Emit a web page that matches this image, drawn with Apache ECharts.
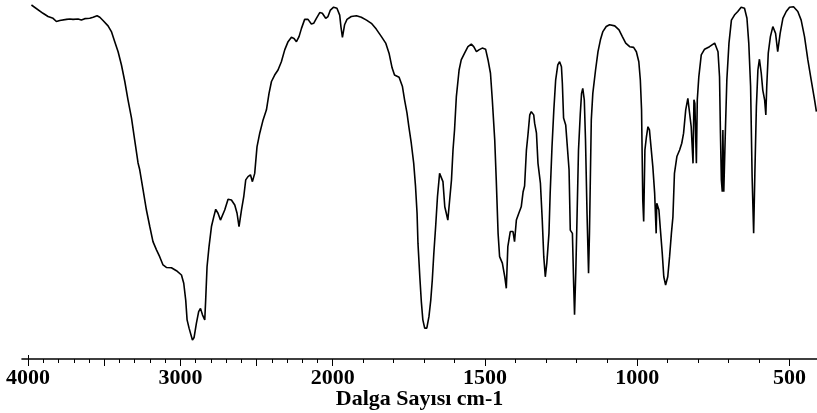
<!DOCTYPE html>
<html><head><meta charset="utf-8">
<script src="https://cdn.jsdelivr.net/npm/echarts@6/dist/echarts.min.js"></script>
<style>html,body{margin:0;padding:0;background:#fff}#c{width:817px;height:413px}</style>
</head><body><div id="c"></div>
<script>
const wavenumbers = [3978,3902,3869,3836,3814,3792,3781,3748,3726,3705,3672,3650,3628,3595,3573,3547,3529,3508,3475,3453,3431,3409,3387,3365,3344,3321,3300,3278,3267,3245,3223,3201,3180,3157,3136,3114,3092,3059,3026,2993,2978,2965,2956,2943,2932,2921,2910,2895,2880,2868,2855,2840,2834,2825,2812,2796,2781,2768,2753,2737,2724,2709,2687,2665,2643,2628,2615,2599,2584,2571,2556,2540,2527,2512,2497,2479,2457,2435,2418,2402,2381,2359,2337,2315,2293,2271,2254,2238,2221,2205,2184,2162,2140,2125,2107,2085,2068,2046,2031,2015,1997,1986,1977,1973,1968,1961,1953,1939,1922,1906,1889,1873,1857,1840,1826,1815,1805,1797,1782,1771,1764,1756,1750,1742,1734,1728,1723,1720,1714,1709,1704,1698,1691,1684,1678,1673,1668,1662,1656,1649,1643,1638,1632,1627,1622,1616,1610,1605,1600,1594,1585,1578,1567,1556,1545,1537,1528,1520,1509,1498,1490,1482,1476,1468,1463,1457,1452,1443,1435,1430,1425,1417,1408,1403,1397,1389,1381,1375,1370,1364,1359,1353,1348,1340,1337,1331,1326,1318,1312,1307,1302,1297,1290,1286,1280,1274,1268,1261,1255,1249,1246,1242,1235,1231,1224,1220,1213,1209,1206,1202,1198,1193,1187,1183,1179,1174,1170,1165,1160,1157,1151,1146,1137,1129,1121,1113,1102,1091,1074,1060,1049,1038,1025,1012,1003,995,990,986,982,979,975,970,965,960,954,949,943,938,936,929,924,918,913,907,900,894,888,883,878,870,861,854,848,841,834,828,823,817,814,811,806,803,798,790,779,763,746,735,730,727,724,721,719,716,711,706,699,691,681,670,659,648,640,634,628,623,618,614,609,604,599,593,588,582,578,575,570,563,555,546,539,531,522,511,500,487,473,462,451,440,429,418,412];
const transmittance = [98.6,96.3,95.4,94.9,94.0,94.3,94.7,94.6,94.7,94.6,94.7,94.4,94.8,94.9,95.2,95.6,95.2,94.3,92.8,91.2,88.4,85.6,81.9,77.3,72.2,67.1,61.0,54.6,52.7,47.1,41.5,36.9,32.7,30.4,28.5,26.2,25.5,25.4,24.6,23.4,21.1,16.4,10.9,8.6,8.1,5.3,6.0,9.9,13.2,14.1,12.3,10.9,16.4,25.7,31.3,36.9,39.6,41.7,40.6,38.7,38.3,41.5,44.5,44.3,42.9,40.6,36.9,41.5,45.2,49.9,50.8,51.3,49.4,51.7,59.1,62.9,66.6,69.4,74.0,77.3,79.1,80.5,82.8,86.1,88.4,89.6,89.3,88.4,89.8,92.1,94.6,94.6,93.3,93.5,94.9,96.5,96.3,94.9,95.4,97.2,98.0,97.7,95.8,92.6,89.6,93.1,94.6,95.4,95.6,95.2,94.4,93.5,91.9,89.8,88.0,85.2,81.1,79.1,78.5,75.9,72.2,68.5,64.7,60.1,54.5,48.0,40.6,32.2,22.9,16.0,10.9,8.6,8.6,11.8,16.4,22.0,29.4,36.9,45.2,51.7,52.2,49.4,42.4,40.6,38.7,44.3,49.9,58.2,63.8,73.1,80.5,83.3,85.2,87.0,87.7,87.0,85.6,86.1,86.6,86.3,83.3,79.6,72.2,61.0,49.9,35.0,28.5,26.7,22.9,19.7,31.3,35.5,35.5,32.7,38.7,40.6,42.4,46.5,48.2,58.2,62.4,68.0,68.9,68.0,65.7,62.9,54.5,48.9,38.7,28.5,22.9,26.7,35.0,46.2,59.1,69.4,77.7,81.9,82.8,81.4,76.8,67.1,65.2,64.7,52.7,35.9,35.0,21.1,12.3,23.9,38.7,58.2,68.5,74.0,75.4,72.2,61.0,40.6,23.9,35.0,66.6,74.0,80.5,85.6,88.9,91.2,92.6,93.1,92.8,91.7,89.8,88.0,87.0,86.8,85.6,82.8,77.7,69.4,44.3,38.3,58.2,61.9,64.7,63.8,58.2,53.6,46.2,35.0,43.4,41.5,35.9,29.4,22.9,20.6,22.9,28.5,35.0,39.6,51.7,56.4,58.2,60.1,62.9,69.4,72.6,73.1,64.7,54.5,72.2,71.2,54.5,72.2,78.6,84.7,86.3,87.0,88.0,85.6,78.6,62.9,49.9,46.6,63.8,46.6,62.9,77.7,88.0,94.4,95.8,96.8,98.0,97.7,94.9,88.0,75.9,50.8,35.0,51.7,70.3,80.5,83.5,79.6,74.9,72.2,68.0,75.9,85.2,89.8,92.6,90.7,85.6,90.7,94.9,96.8,98.0,98.1,96.8,94.4,89.8,83.3,77.7,72.2,68.9];
const tickWavenumbers = [4000,3900,3800,3700,3600,3500,3400,3300,3200,3100,3000,2900,2800,2700,2600,2500,2400,2300,2200,2100,2000,1900,1800,1700,1600,1500,1400,1300,1200,1100,1000,900,800,700,600,500];
const majorTickWavenumbers = [4000,3500,3000,2500,2000,1500,1000,500];
const labelWavenumbers = [4000,3000,2000,1500,1000,500];
const xTitle = 'Dalga Sayısı cm-1';

// Spectrometer-style axis: 2x compression above 2000 cm-1
function toAxis(w){ return w >= 2000 ? (4000 - w) / 2 : 3000 - w; }
function fromAxis(u){ return u <= 1000 ? 4000 - 2 * u : 3000 - u; }

const n = Math.min(wavenumbers.length, transmittance.length);
const data = [];
for (let i = 0; i < n; i++) data.push([toAxis(wavenumbers[i]), transmittance[i]]);

const fontBase = {fontFamily: 'Liberation Serif', fontWeight: 'bold', color: '#000'};
const X_MIN = -20, X_MAX = 2590;

const chart = echarts.init(document.getElementById('c'), null, {renderer: 'canvas'});
chart.setOption({
  animation: false,
  backgroundColor: '#fff',
  grid: {left: 22, right: 0, top: 0, bottom: 54, outerBoundsMode: 'none', containLabel: false},
  xAxis: [
    {type: 'value', min: X_MIN, max: X_MAX, position: 'bottom',
     axisLine: {show: true, lineStyle: {color: '#000', width: 1.6}},
     axisTick: {show: true, customValues: tickWavenumbers.map(toAxis), length: 4, lineStyle: {color: '#000', width: 1}},
     axisLabel: {show: false}, splitLine: {show: false}},
    {type: 'value', min: X_MIN, max: X_MAX, position: 'bottom',
     axisLine: {show: false},
     axisTick: {show: true, customValues: majorTickWavenumbers.map(toAxis), length: 7, lineStyle: {color: '#000', width: 1}},
     axisLabel: Object.assign({show: true, customValues: labelWavenumbers.map(toAxis), fontSize: 22, margin: 8,
       formatter: v => String(Math.round(fromAxis(v)))}, fontBase),
     name: xTitle, nameLocation: 'middle', nameGap: 29, nameMoveOverlap: false,
     nameTextStyle: Object.assign({fontSize: 22}, fontBase),
     splitLine: {show: false}},
    {type: 'value', min: X_MIN, max: X_MAX, position: 'bottom',
     axisLine: {show: false},
     axisTick: {show: true, inside: true, customValues: [toAxis(4000)], length: 4, lineStyle: {color: '#000', width: 1}},
     axisLabel: {show: false}, splitLine: {show: false}}
  ],
  yAxis: {type: 'value', min: 0, max: 100, show: false},
  series: [{
    type: 'line', xAxisIndex: 0, data: data, showSymbol: false, smooth: false,
    lineStyle: {color: '#000', width: 1.6}, clip: true
  }]
});
</script></body></html>
